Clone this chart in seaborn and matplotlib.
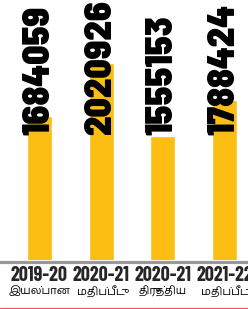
import matplotlib
matplotlib.use("Agg")
import matplotlib.pyplot as plt
import matplotlib.transforms as mtransforms
import pandas as pd
import seaborn as sns

# ==================== Data ====================
years = ['2019-20', '2020-21', '2020-21', '2021-22']
kinds = ['இயல்பான', 'மதிப்பீடு', 'திருத்திய', 'மதிப்பீடு']
values = [1684059, 2020926, 1555153, 1788424]

BAR_COLOR = '#FDBE14'
NUM_FONT = 'Barlow Semi Condensed'
YEAR_FONT = 'Barlow Condensed'
TAMIL_FONT = 'Hind Madurai'

df = pd.DataFrame({'pos': range(len(values)), 'value': values})

sns.set_style('white')
plt.rcParams['font.family'] = ['DejaVu Sans']

fig = plt.figure(figsize=(2.48, 3.09), dpi=100)
ax = fig.add_axes([0, 49 / 309, 1, 260 / 309])

sns.barplot(data=df, x='pos', y='value', color=BAR_COLOR, width=0.405,
            saturation=1, ax=ax, errorbar=None)

# axis window: chart is a crop of a wider graphic
ax.set_xlim(-0.64, 3.38)
ax.set_ylim(766000, 2426000)

for s in ['top', 'right', 'left']:
    ax.spines[s].set_visible(False)
ax.spines['bottom'].set_color('#999999')
ax.spines['bottom'].set_linewidth(2.3)
ax.spines['bottom'].set_position(('outward', 1.5))
ax.set_yticks([])
ax.set_xlabel('')
ax.set_ylabel('')

ax.set_xticks(range(len(years)))
ax.set_xticklabels(years, fontfamily=YEAR_FONT, fontweight='bold', fontsize=14.5)
ax.tick_params(axis='x', length=0, pad=2.5)

# value labels, rotated, drawn from a common base line
trans = mtransforms.blended_transform_factory(ax.transData, ax.transAxes)
for i, v in enumerate(values):
    ax.text(i, (260 - 135) / 260, str(v), rotation=90, ha='center', va='bottom',
            fontfamily=NUM_FONT, fontweight='black', fontsize=27, color='black',
            transform=trans)

# second caption line (Tamil)
for i, k in enumerate(kinds):
    ax.text(i, -(291 - 260) / 260, k, ha='center', va='center',
            fontfamily=TAMIL_FONT, fontsize=8, color='black',
            transform=trans, clip_on=False)

# thin red rule at the bottom
fig.add_artist(plt.Line2D([0, 1], [1.5 / 309, 1.5 / 309], color='#E8505A',
                          linewidth=0.9, transform=fig.transFigure))

fig.savefig('out.png', dpi=100)
